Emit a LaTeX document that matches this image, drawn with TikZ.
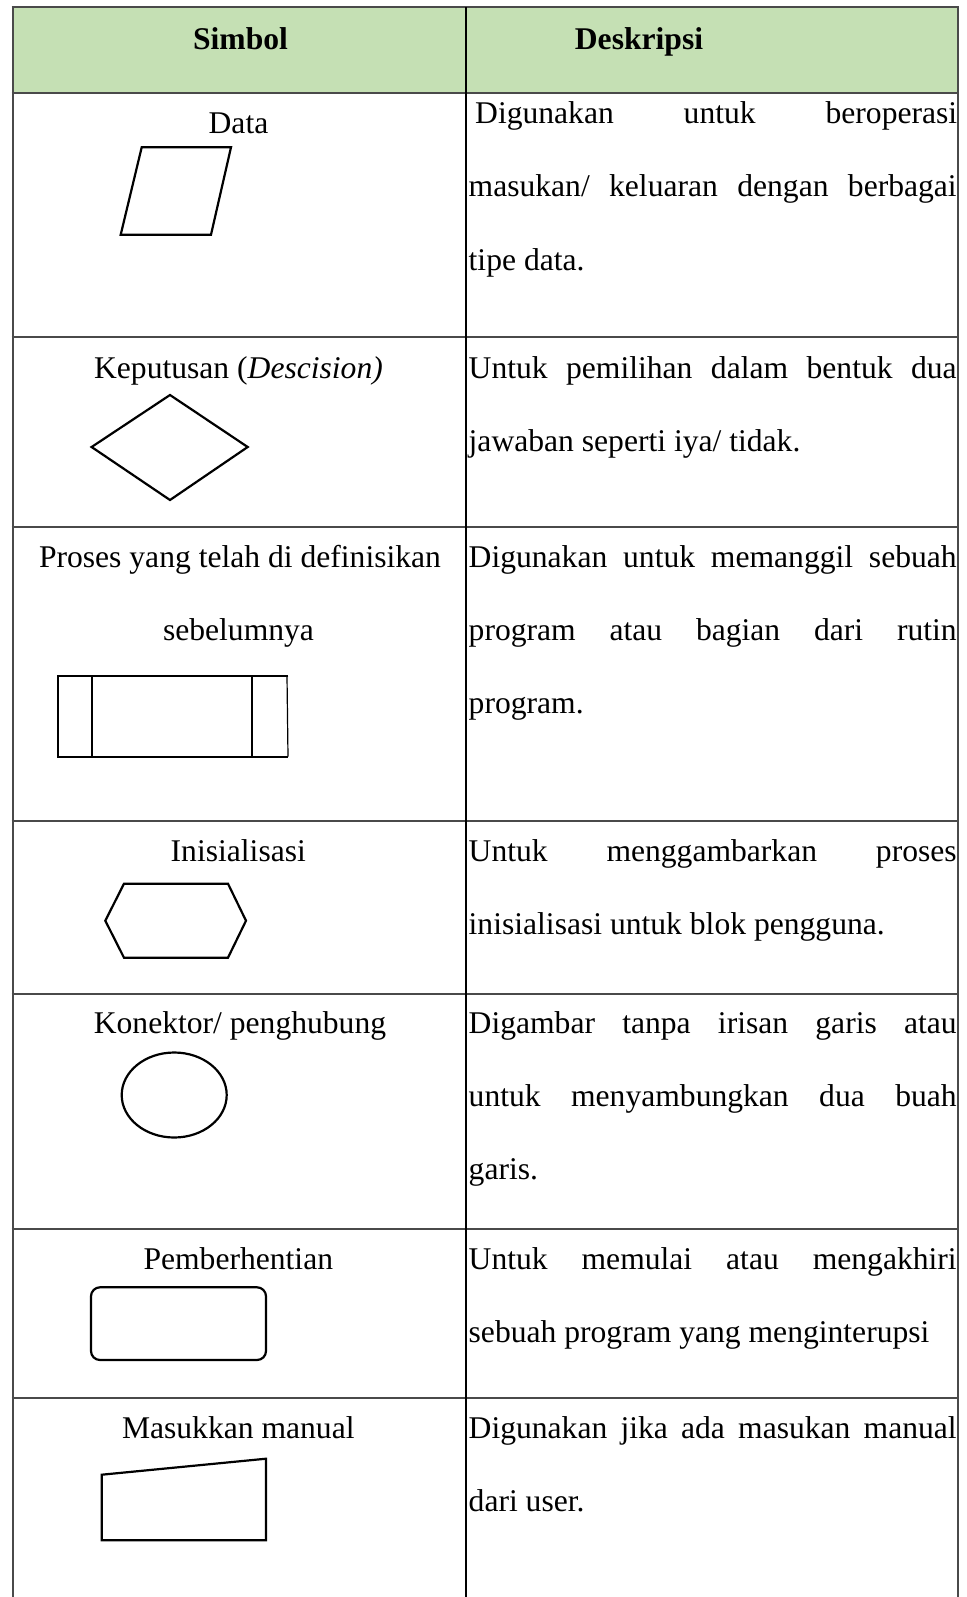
\documentclass[tikz,border=0pt]{standalone}
\usepackage{fontspec}
\setmainfont{Liberation Serif}
\definecolor{hdr}{HTML}{C5E0B4}
\definecolor{rule}{HTML}{4A4A4A}
\begin{document}
\begin{tikzpicture}[x=1pt,y=-1pt,
  lbl/.style={anchor=base,inner sep=0pt,font=\fontsize{31.6}{36}\selectfont},
  hd/.style={anchor=base,inner sep=0pt,font=\fontsize{31.6}{36}\selectfont\bfseries},
  desc/.style={anchor=base west,inner sep=0pt,font=\fontsize{31.6}{36}\selectfont},
  shp/.style={draw=black,line width=2.2pt,line join=miter},
  hrule/.style={draw=rule,line width=2pt},
  vrule/.style={draw=rule,line width=2pt},
  divrule/.style={draw=black,line width=1.3pt}]
\useasboundingbox (0,0) rectangle (966,1597);
\fill[white] (0,0) rectangle (966,1597);
% header fill
\fill[hdr] (12.7,7.3) rectangle (957.7,93.3);
% table rules
\draw[hrule] (11.7,7.3) -- (958.7,7.3);
\draw[hrule] (11.7,93.3) -- (958.7,93.3);
\foreach \yy in {336.7,526.7,820.7,994,1229,1398}{
  \draw[hrule] (11.7,\yy) -- (958.7,\yy);
}
\draw[vrule] (12.7,6.3) -- (12.7,1597);
\draw[vrule] (957.7,6.3) -- (957.7,1597);
\draw[divrule] (466,7.3) -- (466,1597);
% headers
\node[hd] (hsim) at (240.5,49.5) {Simbol};
\node[hd] (hdes) at (639,49.5) {Deskripsi};
% Row 1: Data
\node[lbl] (l1) at (238.5,133.5) {Data};
\draw[shp] (141.7,147.3) -- (231,147.3) -- (211,234.7) -- (120.7,234.7) -- cycle;
\node[desc] (d1a) at (475,124) {\makebox[482pt][s]{Digunakan untuk beroperasi}};
\node[desc] (d1b) at (468.5,197) {\makebox[488pt][s]{masukan/ keluaran dengan berbagai}};
\node[desc] (d1c) at (468.5,270) {tipe data.};
% Row 2: Keputusan
\node[lbl] (l2) at (238.5,378) {Keputusan (\textit{Descision)}};
\draw[shp] (170,395) -- (247.7,447) -- (170,500) -- (91.6,447) -- cycle;
\node[desc] (d2a) at (468.5,378) {\makebox[488pt][s]{Untuk pemilihan dalam bentuk dua}};
\node[desc] (d2b) at (468.5,451) {jawaban seperti iya/ tidak.};
% Row 3: Proses
\node[lbl] (l3a) at (240,567) {Proses yang telah di definisikan};
\node[lbl] (l3b) at (238.5,640.5) {sebelumnya};
\draw[shp] (288.3,676) -- (57.7,676) -- (57.7,756.7) -- (288.3,756.7);
\draw[black,line width=1.2pt] (287,676) -- (288,756.7);
\draw[shp] (91.7,676) -- (91.7,756.7);
\draw[shp] (252.3,676) -- (252.3,756.7);
\node[desc] (d3a) at (468.5,567) {\makebox[488pt][s]{Digunakan untuk memanggil sebuah}};
\node[desc] (d3b) at (468.5,640) {\makebox[488pt][s]{program atau bagian dari rutin}};
\node[desc] (d3c) at (468.5,713) {program.};
% Row 4: Inisialisasi
\node[lbl] (l4) at (238.3,861.7) {Inisialisasi};
\draw[shp] (124,883.7) -- (228,883.7) -- (246,920.7) -- (228,957.7) -- (124,957.7) -- (105.3,920.7) -- cycle;
\node[desc] (d4a) at (468.5,861.7) {\makebox[488pt][s]{Untuk menggambarkan proses}};
\node[desc] (d4b) at (468.5,934.7) {inisialisasi untuk blok pengguna.};
% Row 5: Konektor
\node[lbl] (l5) at (240,1033) {Konektor/ penghubung};
\draw[shp] (174.2,1095) ellipse [x radius=52.5,y radius=42.5];
\node[desc] (d5a) at (468.5,1033) {\makebox[488pt][s]{Digambar tanpa irisan garis atau}};
\node[desc] (d5b) at (468.5,1106) {\makebox[488pt][s]{untuk menyambungkan dua buah}};
\node[desc] (d5c) at (468.5,1179) {garis.};
% Row 6: Pemberhentian
\node[lbl] (l6) at (238.3,1269.3) {Pemberhentian};
\draw[shp,rounded corners=9pt] (91,1287.3) rectangle (266,1360);
\node[desc] (d6a) at (468.5,1269.3) {\makebox[488pt][s]{Untuk memulai atau mengakhiri}};
\node[desc] (d6b) at (468.5,1342.3) {sebuah program yang menginterupsi};
% Row 7: Masukkan manual
\node[lbl] (l7) at (238.3,1438.3) {Masukkan manual};
\draw[shp] (101.7,1474.7) -- (266,1458.7) -- (266,1540.3) -- (101.7,1540.3) -- cycle;
\node[desc] (d7a) at (468.5,1438.3) {\makebox[488pt][s]{Digunakan jika ada masukan manual}};
\node[desc] (d7b) at (468.5,1511.3) {dari user.};
\end{tikzpicture}
\end{document}
